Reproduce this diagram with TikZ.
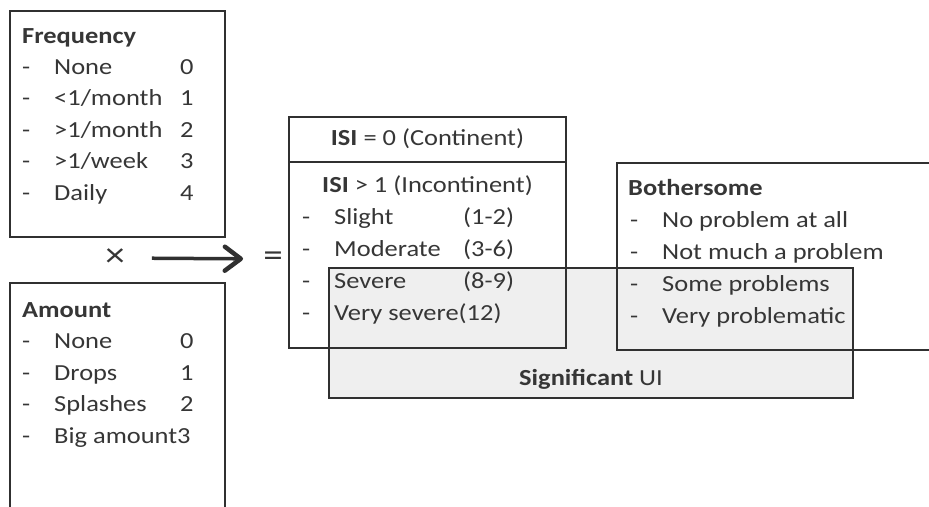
\documentclass[tikz,border=0pt]{standalone}
\usepackage{fontspec}
\setmainfont{Carlito}[FakeStretch=1.15]
\usetikzlibrary{arrows.meta}
\definecolor{ink}{HTML}{363636}
\definecolor{rule}{HTML}{303030}
\definecolor{sigfill}{HTML}{EFEFEF}
\begin{document}
\begin{tikzpicture}[x=1pt,y=-1pt,
  every node/.style={text=ink, inner sep=0pt, font=\fontsize{23}{28}\selectfont},
  lbl/.style={anchor=base west},
  mid/.style={anchor=base},
  frame/.style={draw=rule, line width=2pt},
  opsign/.style={font=\fontsize{34}{40}\selectfont},
  flow/.style={draw=rule, line width=3.5pt,
    -{Straight Barb[length=16pt,width=24pt,line width=4.5pt,line cap=round,line join=round]}}]
\clip (0,0) rectangle (929,506);

% shaded region for significant incontinence, drawn first so outlines stay visible
\fill[sigfill] (329,268) rectangle (853,398);

% frequency scale
\draw[frame] (10,11) rectangle (225,237);
\node[lbl] (fq) at (22,43) {\textbf{Frequency}};
\foreach \i/\t/\n in {1/None/0, 2/<1\slash month/1, 3/>1\slash month/2, 4/>1\slash week/3, 5/Daily/4}{
  \node[lbl] (fqd\i) at (22,43+31.4*\i) {-};
  \node[lbl] (fqt\i) at (54,43+31.4*\i) {\t};
  \node[lbl] (fqn\i) at (180,43+31.4*\i) {\n};
}

% amount scale (box runs off the lower edge)
\draw[frame] (10,520) -- (10,283) -- (225,283) -- (225,520);
\node[lbl] (am) at (22,317) {\textbf{Amount}};
\foreach \i/\t/\n in {1/None/0, 2/Drops/1, 3/Splashes/2}{
  \node[lbl] (amd\i) at (22,317+31.5*\i) {-};
  \node[lbl] (amt\i) at (54,317+31.5*\i) {\t};
  \node[lbl] (amn\i) at (180,317+31.5*\i) {\n};
}
\node[lbl] (amd4) at (22,443) {-};
\node[lbl] (amt4) at (54,443) {Big amount3};

% product gives the severity index
\node[opsign] (times) at (115,258) {×};
\node[opsign] (eq) at (273,259) {=};
\draw[flow, shorten <=27pt, shorten >=20pt] (times) -- (eq);

% ISI box
\draw[frame] (289,117) rectangle (566,348);
\draw[frame] (289,162) -- (566,162);
\node[mid] (isi0) at (427.5,145) {\textbf{ISI} = 0 (Continent)};
\node[mid] (isi1) at (427.5,192) {\textbf{ISI} > 1 (Incontinent)};
\foreach \i/\t/\r in {1/Slight/(1-2), 2/Moderate/(3-6), 3/Severe/(8-9)}{
  \node[lbl] (isd\i) at (302,192+32*\i) {-};
  \node[lbl] (ist\i) at (334,192+32*\i) {\t};
  \node[lbl] (isr\i) at (463,192+32*\i) {\r};
}
\node[lbl] (isd4) at (302,320) {-};
\node[lbl] (ist4) at (334,320) {Very severe(12)};

% bothersome scale (box runs off the right edge)
\draw[frame] (945,163) -- (617,163) -- (617,350) -- (945,350);
\node[lbl] (bo) at (628,195) {\textbf{Bothersome}};
\foreach \i/\t in {1/No problem at all, 2/Not much a problem, 3/Some problems, 4/Very problematic}{
  \node[lbl] (bod\i) at (630,195+32*\i) {-};
  \node[lbl] (bot\i) at (662,195+32*\i) {\t};
}

% significant UI outline
\draw[frame] (329,268) rectangle (853,398);
\node[mid] (sig) at (591,385) {\textbf{Significant} UI};
\end{tikzpicture}
\end{document}
